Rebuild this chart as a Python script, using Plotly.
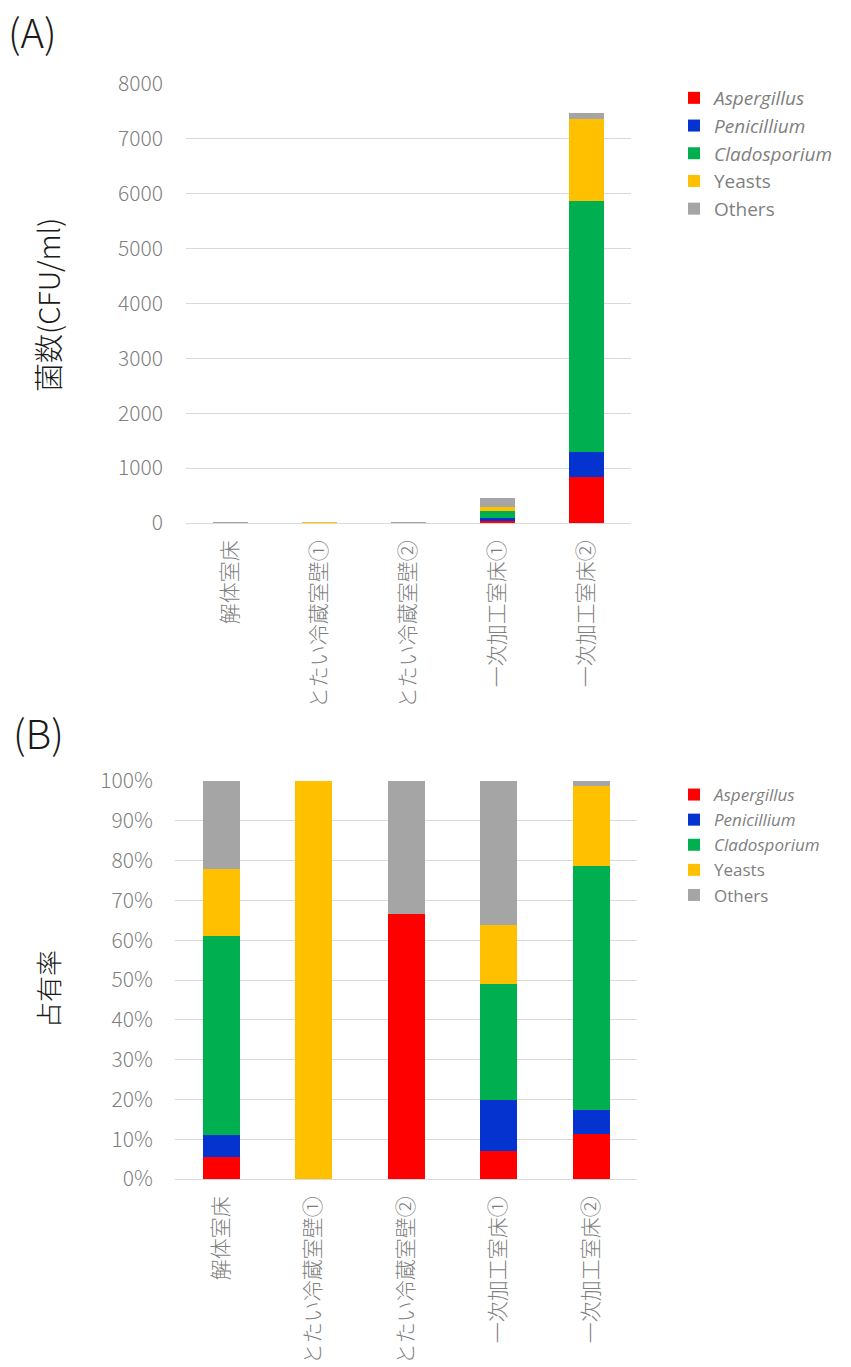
import plotly.graph_objects as go

W, H = 851, 1367

# Sampling sites
sites = ["解体室床", "とたい冷蔵室壁①", "とたい冷蔵室壁②", "一次加工室床①", "一次加工室床②"]

# Colony counts per group (CFU/ml)
aspergillus = [1, 0, 2, 32, 840]
penicillium = [1, 0, 0, 59, 455]
cladosporium = [9, 0, 0, 134, 4575]
yeasts = [3, 1, 0, 68, 1500]
others = [4, 0, 1, 167, 97]

group_names = ["<i>Aspergillus</i>", "<i>Penicillium</i>", "<i>Cladosporium</i>", "Yeasts", "Others"]
group_values = [aspergillus, penicillium, cladosporium, yeasts, others]
group_colors = ["#FF0000", "#0433D0", "#00B050", "#FFC000", "#A5A5A5"]

count_ticks = [0, 1000, 2000, 3000, 4000, 5000, 6000, 7000, 8000]
share_ticks = [0, 10, 20, 30, 40, 50, 60, 70, 80, 90, 100]

totals = [sum(v[i] for v in group_values) for i in range(len(sites))]

FONT = "Noto Sans CJK JP"
GRAY = "#7F7F7F"
GRID = "#D9D9D9"

def py(pix):
    return 1 - pix / H

def px(pix):
    return pix / W

fig = go.Figure()

for name, vals, col in zip(group_names, group_values, group_colors):
    fig.add_trace(go.Bar(
        x=sites, y=vals, name=name, marker=dict(color=col, line=dict(width=0)),
        xaxis="x", yaxis="y", legend="legend", legendgroup="a" + name,
    ))
for name, vals, col in zip(group_names, group_values, group_colors):
    pct = [100 * v / t if t else 0 for v, t in zip(vals, totals)]
    fig.add_trace(go.Bar(
        x=sites, y=pct, name=name, marker=dict(color=col, line=dict(width=0)),
        xaxis="x2", yaxis="y2", legend="legend2", legendgroup="b" + name,
    ))

ytickfont = dict(family=FONT, size=21, color=GRAY, weight=300)
xtickfont = dict(family=FONT, size=21, color=GRAY, weight=300)
xcommon = dict(
    type="category", tickangle=-90, tickfont=xtickfont, showline=False,
    showgrid=False, ticks="", ticklabelstandoff=12, fixedrange=True,
    automargin=False,
)
LEGFONT = "Open Sans, Noto Sans CJK JP"
fig.update_layout(
    width=W, height=H,
    margin=dict(l=0, r=0, t=0, b=0, autoexpand=False),
    paper_bgcolor="white", plot_bgcolor="white",
    barmode="stack", bargap=0.6,
    font=dict(family=FONT),
    xaxis=dict(domain=[px(186), px(631)], anchor="y", **xcommon),
    yaxis=dict(
        domain=[py(523), py(84)], anchor="x", range=[0, 8000],
        tickvals=count_ticks, ticktext=[str(t) for t in count_ticks],
        tickfont=ytickfont, showgrid=True, gridcolor=GRID, gridwidth=1,
        zeroline=True, zerolinecolor=GRID, zerolinewidth=1,
        showline=False, ticks="", ticklabelstandoff=22, automargin=False,
    ),
    xaxis2=dict(domain=[px(174.75), px(637.25)], anchor="y2", **xcommon),
    yaxis2=dict(
        domain=[py(1179), py(781)], anchor="x2", range=[0, 100],
        tickvals=share_ticks, ticktext=[f"{t}%" for t in share_ticks],
        tickfont=ytickfont, showgrid=True, gridcolor=GRID, gridwidth=1,
        zeroline=True, zerolinecolor=GRID, zerolinewidth=1,
        showline=False, ticks="", ticklabelstandoff=21, automargin=False,
    ),
    legend=dict(
        x=px(674), y=py(79), xanchor="left", yanchor="top",
        font=dict(family=LEGFONT, size=19, color=GRAY, weight=400),
        tracegroupgap=0, itemwidth=30, bgcolor="rgba(0,0,0,0)",
    ),
    legend2=dict(
        x=px(674), y=py(777), xanchor="left", yanchor="top",
        font=dict(family=LEGFONT, size=17, color=GRAY, weight=400),
        tracegroupgap=0, itemwidth=30, bgcolor="rgba(0,0,0,0)",
    ),
    annotations=[
        dict(text="(A)", x=px(6), y=py(31), xref="paper", yref="paper",
             xanchor="left", yanchor="middle", showarrow=False,
             font=dict(family=FONT, size=40, color="#1A1A1A", weight=300)),
        dict(text="(B)", x=px(11), y=py(732), xref="paper", yref="paper",
             xanchor="left", yanchor="middle", showarrow=False,
             font=dict(family=FONT, size=40, color="#1A1A1A", weight=300)),
        dict(text="菌数(CFU/ml)", x=px(47), y=py(305), xref="paper", yref="paper",
             xanchor="center", yanchor="middle", showarrow=False, textangle=-90,
             font=dict(family=FONT, size=29, color="#1A1A1A", weight=300)),
        dict(text="占有率", x=px(47), y=py(989), xref="paper", yref="paper",
             xanchor="center", yanchor="middle", showarrow=False, textangle=-90,
             font=dict(family=FONT, size=26, color="#1A1A1A", weight=300)),
    ],
)

fig.write_html("out.html")
